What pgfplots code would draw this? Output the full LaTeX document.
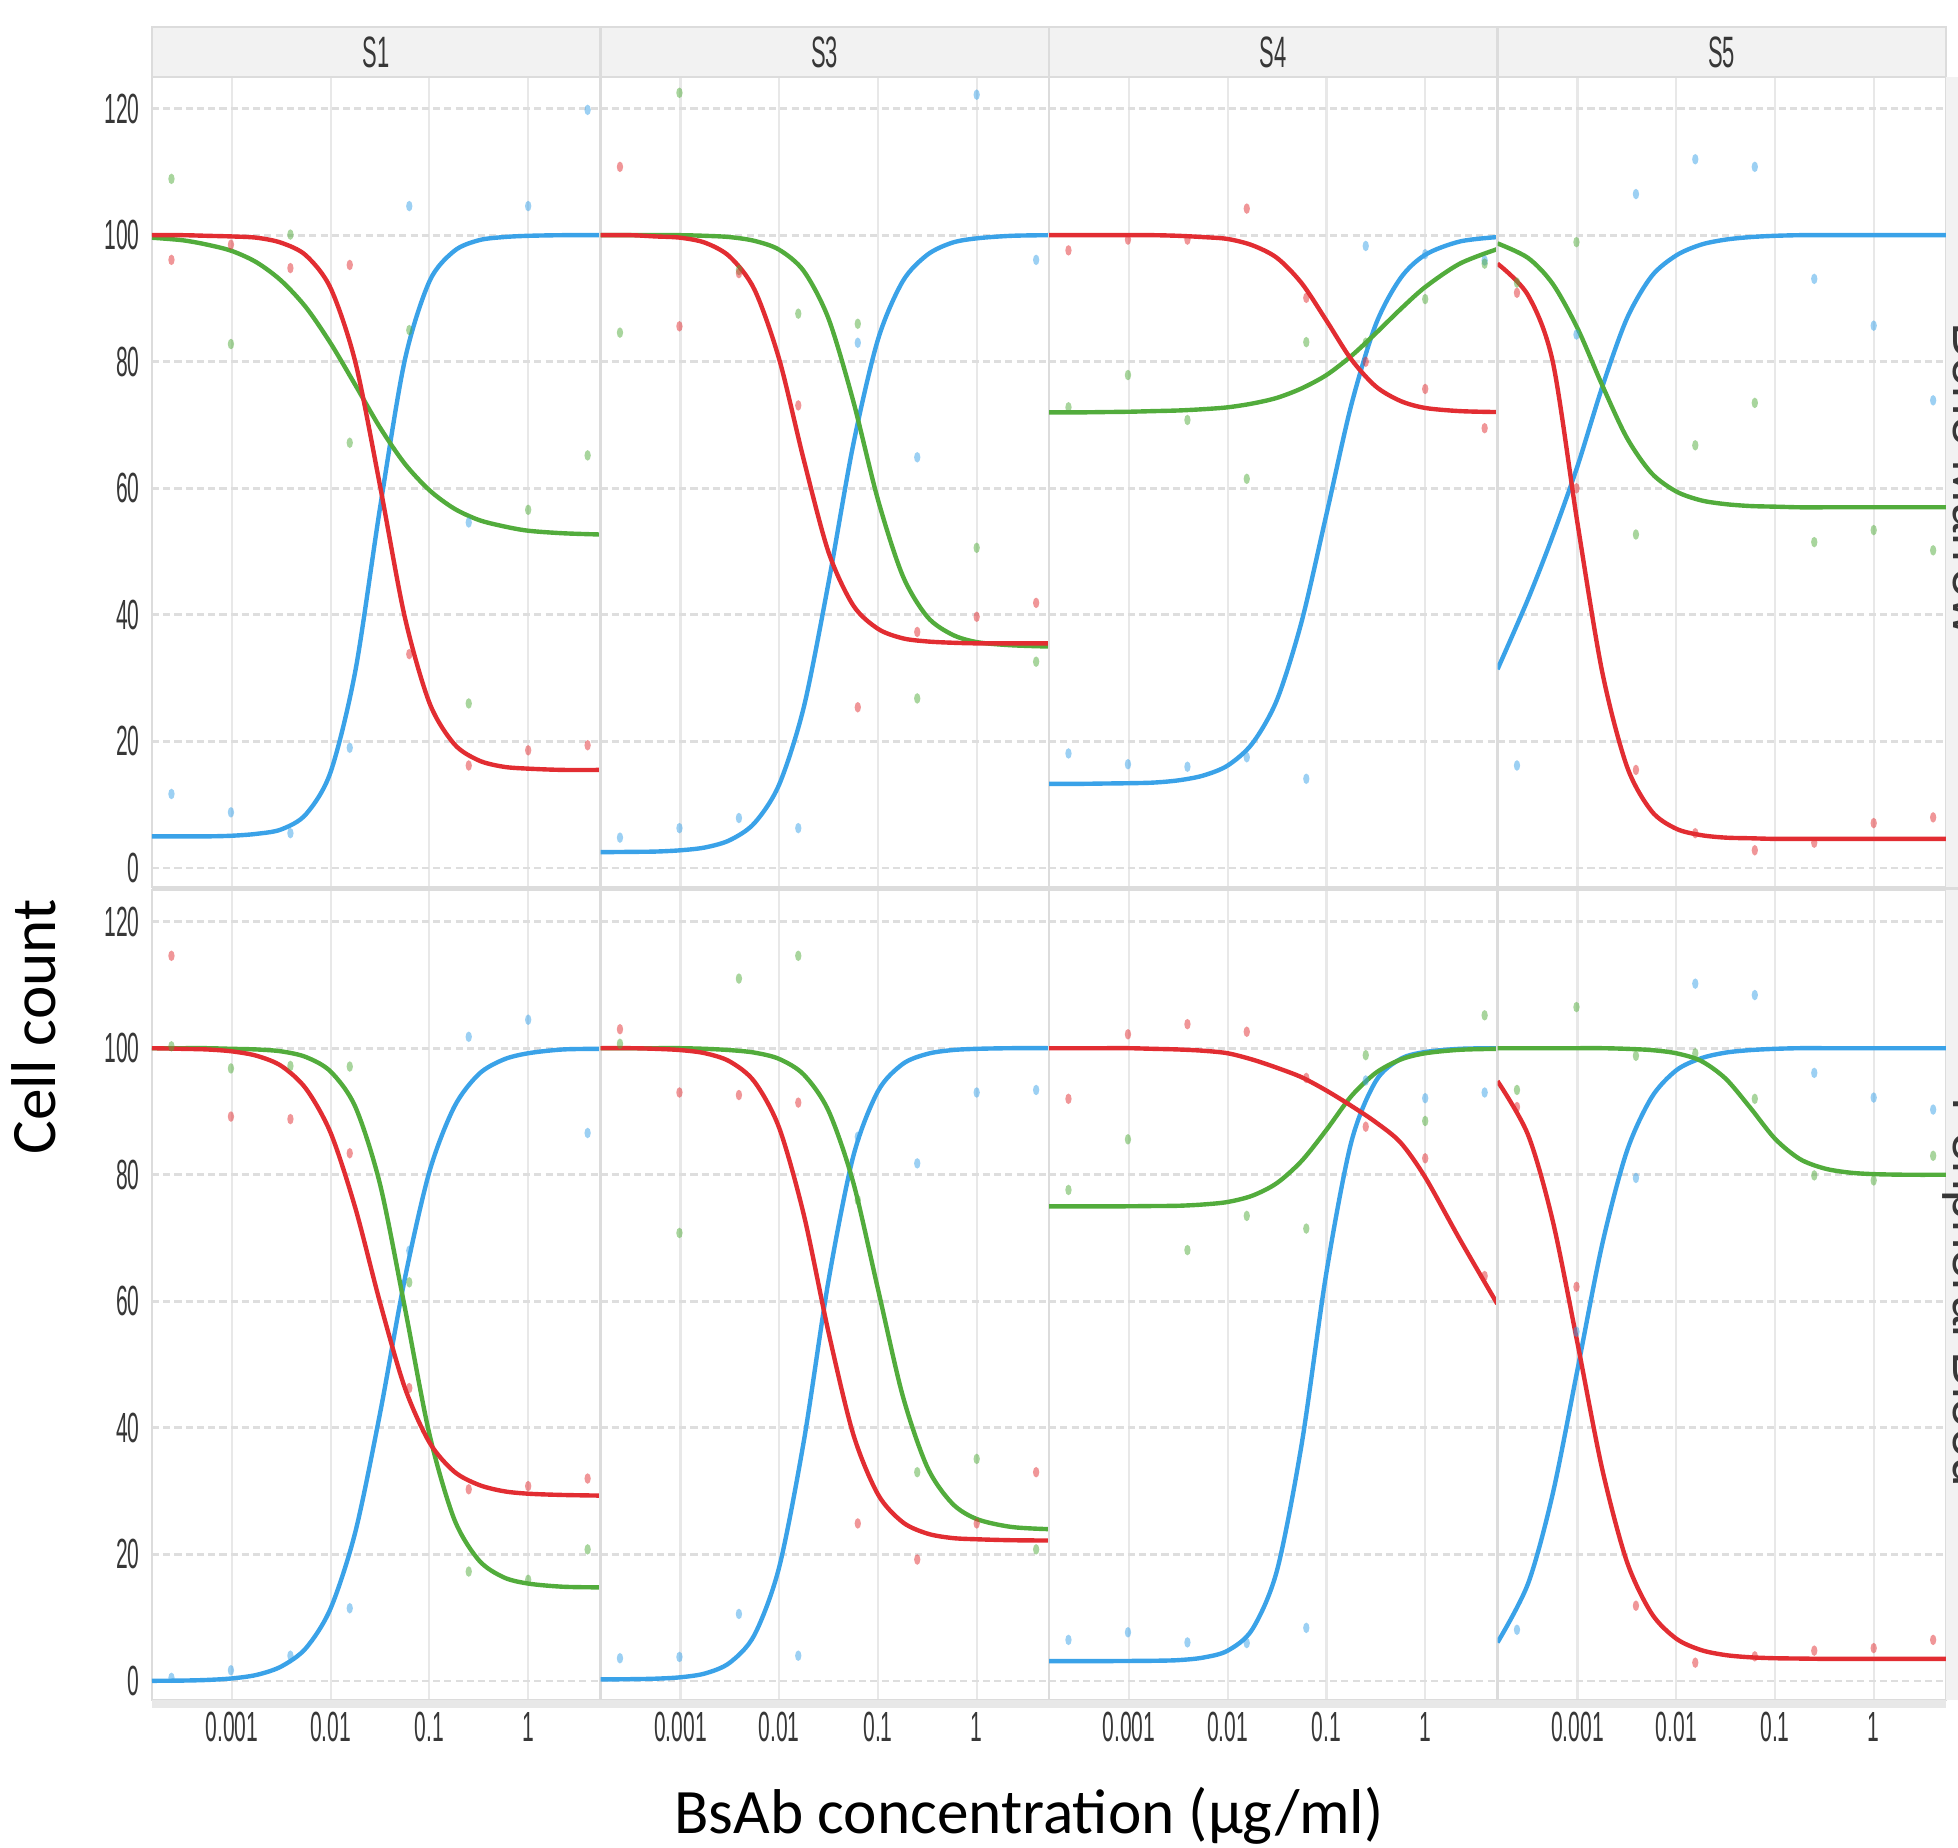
\documentclass[border=0pt]{standalone}
\usepackage{fontspec}
\setmainfont{Liberation Sans}
\newfontfamily\narrow[FakeStretch=0.5]{Liberation Sans}
\newfontfamily\carlito{Carlito}
\usepackage{pgfplots}
\usepackage{pgfplotstable}
\pgfplotsset{compat=1.18}

\definecolor{cred}{RGB}{226,45,50}
\definecolor{cgreen}{RGB}{82,172,60}
\definecolor{cblue}{RGB}{58,162,232}
\definecolor{gridh}{RGB}{222,222,222}
\definecolor{gridv}{RGB}{232,232,232}
\definecolor{stripbg}{RGB}{242,242,242}
\definecolor{frame}{RGB}{220,220,220}
\definecolor{tickgray}{RGB}{55,55,55}

% fitted curves: x red green blue
\pgfplotstableread{
x red green blue
0.000155 100.0 99.6 5.0
0.000316 100.0 99.2 5.0
0.000562 99.9 98.5 5.0
0.001 99.8 97.5 5.1
0.00178 99.6 95.7 5.4
0.00316 98.8 92.8 6.1
0.00562 96.8 88.6 8.5
0.01 91.6 82.9 15.2
0.0178 79.9 76.3 31.2
0.0316 60.4 69.6 56.9
0.0562 39.7 63.9 80.2
0.1 26.1 59.7 92.7
0.178 19.6 56.8 97.5
0.316 17.0 55.0 99.2
0.562 16.0 54.0 99.7
1 15.7 53.3 99.9
2.24 15.5 52.9 100.0
5.37 15.5 52.7 100.0
}\fitA
\pgfplotstableread{
x red green blue
0.000155 100.0 100.0 2.5
0.000316 100.0 100.0 2.55
0.000562 99.8 100.0 2.6
0.001 99.6 100.0 2.8
0.00178 98.8 99.9 3.25
0.00316 96.6 99.7 4.4
0.00562 91.4 99.1 7.1
0.01 80.4 97.7 13.2
0.0178 64.4 94.3 25.5
0.0316 49.9 86.8 45.1
0.0562 41.5 73.8 66.9
0.1 37.8 58.2 83.5
0.178 36.3 46.2 92.7
0.316 35.8 39.7 96.9
0.562 35.6 36.9 98.8
1 35.5 35.7 99.5
2.24 35.5 35.2 99.9
5.37 35.5 35.0 100.0
}\fitB
\pgfplotstableread{
x red green blue
0.000155 100.0 72.0 13.3
0.000316 100.0 72.0 13.3
0.000562 100.0 72.05 13.35
0.001 100.0 72.1 13.4
0.00178 100.0 72.2 13.5
0.00316 99.9 72.3 13.85
0.00562 99.7 72.5 14.6
0.01 99.4 72.8 16.2
0.0178 98.4 73.4 19.7
0.0316 96.4 74.3 26.6
0.0562 92.4 75.8 39.0
0.1 86.5 77.9 55.9
0.178 80.4 80.9 73.1
0.316 76.1 84.5 85.9
0.562 73.8 88.3 93.2
1 72.7 91.8 96.9
2.24 72.2 95.5 99.0
5.37 72.05 97.8 99.7
}\fitC
\pgfplotstableread{
x red green blue
0.000155 95.5 98.7 31.4
0.000316 90.5 96.4 42.5
0.000562 80.0 92.3 52.5
0.001 54.5 85.3 63.5
0.00178 31.0 76.3 76.0
0.00316 16.1 68.0 86.8
0.00562 9.0 62.4 93.5
0.01 6.2 59.5 96.8
0.0178 5.2 58.1 98.5
0.0316 4.8 57.5 99.3
0.0562 4.7 57.2 99.7
0.1 4.6 57.1 99.9
0.178 4.6 57.0 100
0.316 4.6 57.0 100
0.562 4.6 57.0 100
1 4.6 57.0 100
2.24 4.6 57.0 100
5.37 4.6 57.0 100
}\fitD
\pgfplotstableread{
x red green blue
0.000155 100.0 100.0 0.03
0.000316 99.9 100.0 0.07
0.000562 99.8 100.0 0.17
0.001 99.5 99.9 0.41
0.00178 98.8 99.8 0.97
0.00316 97.2 99.5 2.3
0.00562 93.6 98.6 5.2
0.01 86.6 96.3 11.5
0.0178 74.7 90.7 23.6
0.0316 59.8 78.5 42.3
0.0562 46.4 59.1 63.5
0.1 37.7 39.0 80.5
0.178 33.1 25.6 90.7
0.316 31.0 19.1 95.9
0.562 30.0 16.4 98.2
1 29.6 15.4 99.2
2.24 29.4 14.9 99.8
5.37 29.3 14.8 99.9
}\fitE
\pgfplotstableread{
x red green blue
0.000155 100.0 100.0 0.25
0.000316 100.0 100.0 0.29
0.000562 99.9 100.0 0.37
0.001 99.7 100.0 0.59
0.00178 99.2 99.9 1.2
0.00316 97.9 99.7 2.9
0.00562 94.7 99.3 7.3
0.01 87.4 98.3 18.0
0.0178 73.6 95.8 38.0
0.0316 55.1 90.1 63.3
0.0562 39.0 78.8 82.9
0.1 29.5 61.95 93.2
0.178 25.1 45.1 97.5
0.316 23.3 33.8 99.1
0.562 22.6 28.1 99.7
1 22.4 25.6 99.9
2.24 22.25 24.35 100
5.37 22.2 24.0 100
}\fitF
\pgfplotstableread{
x red green blue
0.000155 100.0 75.0 3.15
0.000316 100.0 75.0 3.15
0.000562 100.0 75.0 3.15
0.001 100.0 75.02 3.17
0.00178 99.9 75.06 3.2
0.00316 99.8 75.1 3.3
0.00562 99.6 75.3 3.7
0.01 99.2 75.7 4.8
0.0178 98.2 76.7 8.2
0.0316 96.9 78.7 17.5
0.0562 95.4 82.2 37.5
0.1 93.3 87.1 64.6
0.178 90.9 92.4 85.1
0.316 88.3 96.1 94.8
0.562 85.1 98.2 98.3
1 79.6 99.2 99.4
2.24 69.8 99.75 99.9
5.37 59.6 99.9 100
}\fitG
\pgfplotstableread{
x red green blue
0.000155 94.8 100.0 6.1
0.000316 86.3 100.0 15.4
0.000562 72.7 100.0 29.6
0.001 53.4 100.0 49.2
0.00178 33.5 100.0 69.0
0.00316 18.9 99.9 83.7
0.00562 10.7 99.7 92.2
0.01 6.7 99.2 96.5
0.0178 4.9 98.0 98.4
0.0316 4.1 95.2 99.3
0.0562 3.75 90.6 99.7
0.1 3.6 85.7 99.9
0.178 3.55 82.5 100
0.316 3.5 81.0 100
0.562 3.5 80.35 100
1 3.5 80.1 100
2.24 3.5 80.0 100
5.37 3.5 80.0 100
}\fitH

% measured points (4-fold dilutions)
\pgfplotstableread{
x red green blue
0.000244 96.1 108.9 11.7
0.000977 98.5 82.8 8.8
0.00391 94.8 100.1 5.5
0.0156 95.3 67.2 19.0
0.0625 33.8 85.0 104.6
0.25 16.2 26.0 54.6
1 18.6 56.6 104.6
4 19.4 65.2 119.8
}\obsA
\pgfplotstableread{
x red green blue
0.000244 110.8 84.6 4.8
0.000977 85.6 122.5 6.3
0.00391 94.0 94.5 7.9
0.0156 73.1 87.6 6.3
0.0625 25.4 86.0 83.0
0.25 37.3 26.8 64.9
1 39.7 50.6 122.2
4 41.9 32.6 96.1
}\obsB
\pgfplotstableread{
x red green blue
0.000244 97.6 72.8 18.1
0.000977 99.3 77.9 16.4
0.00391 99.3 70.8 16.0
0.0156 104.2 61.5 17.5
0.0625 90.1 83.1 14.1
0.25 80.0 83.0 98.3
1 75.7 89.9 97.0
4 69.5 95.5 96.0
}\obsC
\pgfplotstableread{
x red green blue
0.000244 90.9 92.5 16.2
0.000977 60.0 98.9 84.3
0.00391 15.5 52.7 106.5
0.0156 5.5 66.8 112.0
0.0625 2.8 73.5 110.8
0.25 4.0 51.5 93.1
1 7.1 53.4 85.7
4 8.0 50.2 73.9
}\obsD
\pgfplotstableread{
x red green blue
0.000244 114.6 100.3 0.5
0.000977 89.2 96.8 1.7
0.00391 88.8 97.2 4.0
0.0156 83.4 97.1 11.5
0.0625 46.3 63.0 68.0
0.25 30.3 17.3 101.8
1 30.8 16.0 104.5
4 32.0 20.8 86.6
}\obsE
\pgfplotstableread{
x red green blue
0.000244 103.0 100.7 3.6
0.000977 93.0 70.8 3.8
0.00391 92.6 111.0 10.6
0.0156 91.4 114.6 4.0
0.0625 24.9 76.0 86.0
0.25 19.2 33.0 81.8
1 24.9 35.1 93.0
4 33.0 20.8 93.4
}\obsF
\pgfplotstableread{
x red green blue
0.000244 92.0 77.6 6.5
0.000977 102.2 85.6 7.7
0.00391 103.8 68.1 6.1
0.0156 102.6 73.5 6.0
0.0625 95.3 71.5 8.4
0.25 87.6 98.9 94.9
1 82.6 88.5 92.1
4 64.0 105.2 93.0
}\obsG
\pgfplotstableread{
x red green blue
0.000244 90.7 93.4 8.1
0.000977 62.3 106.5 55.2
0.00391 11.9 98.8 79.5
0.0156 2.9 99.2 110.2
0.0625 3.9 92.0 108.4
0.25 4.8 79.9 96.1
1 5.2 79.1 92.2
4 6.5 83.0 90.3
}\obsH

\pgfplotsset{
  facet/.style={
    width=4.485cm, height=8.10cm, scale only axis, anchor=north west,
    xmin=1.55e-4, xmax=5.4, ymin=-3, ymax=125,
    xtick={0.001,0.01,0.1,1}, ytick={0,20,40,60,80,100,120},
    xticklabels={}, yticklabels={},
    xminorticks=false, major tick length=0pt, minor tick length=0pt,
    xmajorgrids, ymajorgrids,
    x grid style={gridv, line width=0.6pt},
    y grid style={gridh, line width=0.8pt, dash pattern=on 2pt off 1.2pt},
    axis line style={frame, line width=0.8pt},
    tick label style={font=\narrow\fontsize{12}{12}\selectfont, text=tickgray},
  },
  curve/.style={line width=1.25pt, smooth, tension=0.5, no markers},
  obs/.style={only marks, mark=*, mark size=1.5pt,
    mark options={xscale=0.6, draw opacity=0, fill opacity=0.5}},
}

\newcommand{\panel}[3]{%
  \begin{semilogxaxis}[facet,#3]
    \addplot[obs,cblue] table[x=x,y=blue]{#2};
    \addplot[obs,cgreen] table[x=x,y=green]{#2};
    \addplot[obs,cred] table[x=x,y=red]{#2};
    \addplot[curve,cblue] table[x=x,y=blue]{#1};
    \addplot[curve,cgreen] table[x=x,y=green]{#1};
    \addplot[curve,cred] table[x=x,y=red]{#1};
  \end{semilogxaxis}}

\begin{document}
\begin{tikzpicture}
\useasboundingbox (0,0) rectangle (19.58,18.47);

\panel{\fitA}{\obsA}{at={(1.52cm,17.70cm)}, yticklabels={0,20,40,60,80,100,120}}
\panel{\fitB}{\obsB}{at={(6.005cm,17.70cm)}}
\panel{\fitC}{\obsC}{at={(10.49cm,17.70cm)}}
\panel{\fitD}{\obsD}{at={(14.975cm,17.70cm)}}
\panel{\fitE}{\obsE}{at={(1.52cm,9.57cm)}, yticklabels={0,20,40,60,80,100,120}, xticklabels={0.001,0.01,0.1,1}}
\panel{\fitF}{\obsF}{at={(6.005cm,9.57cm)}, xticklabels={0.001,0.01,0.1,1}}
\panel{\fitG}{\obsG}{at={(10.49cm,9.57cm)}, xticklabels={0.001,0.01,0.1,1}}
\panel{\fitH}{\obsH}{at={(14.975cm,9.57cm)}, xticklabels={0.001,0.01,0.1,1}}

% bands between rows and below the panels
\fill[frame] (1.52,9.57) rectangle (19.46,9.60);
\fill[gridv] (1.52,1.39) rectangle (19.46,1.47);

% facet strips
\fill[stripbg] (1.52,17.70) rectangle (19.46,18.20);
\draw[frame, line width=0.8pt] (1.52,17.70) rectangle (19.46,18.20);
\foreach \sx in {6.005,10.49,14.975} \draw[frame, line width=0.8pt] (\sx,17.70) -- (\sx,18.20);
\foreach \lab/\cx in {S1/3.7625,S3/8.2475,S4/12.7325,S5/17.2175}
  \node[font=\narrow\fontsize{12.5}{12.5}\selectfont, text=tickgray] at (\cx,17.95) {\lab};
\fill[stripbg] (19.46,1.47) rectangle (19.70,17.70);
\draw[frame, line width=0.8pt] (19.46,9.585) -- (19.70,9.585);
% row strip labels, cut off by the right edge as in the reference
\node[rotate=-90, anchor=base, font=\fontsize{15}{15}\selectfont, text=tickgray] at (19.535,13.68) {Bone Marrow};
\node[rotate=-90, anchor=base, font=\fontsize{15}{15}\selectfont, text=tickgray] at (19.535,5.55) {Peripheral Blood};

% axis titles
\node[font=\carlito\fontsize{18}{18}\selectfont, anchor=base] at (10.29,0.14) {BsAb concentration (µg/ml)};
\node[font=\carlito\fontsize{18}{18}\selectfont, rotate=90] at (0.34,8.20) {Cell count};
\end{tikzpicture}
\end{document}
